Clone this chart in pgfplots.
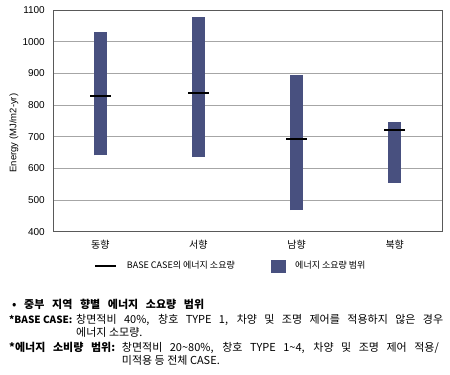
\documentclass[border=0pt]{standalone}
\usepackage{pgfplots}
\pgfplotsset{compat=1.18}
\usepackage{fontspec}
\setmainfont{Liberation Sans}
\newfontfamily\kr{Noto Sans CJK KR}
\definecolor{barblue}{RGB}{72,80,127}
\begin{document}
\begin{tikzpicture}[x=1pt,y=1pt]
\useasboundingbox (0,0) rectangle (450,375);
\begin{axis}[
 at={(53.3pt,143.3pt)}, anchor=south west, scale only axis,
 width=389.4pt, height=221.7pt,
 xmin=-0.479, xmax=3.489, ymin=400, ymax=1100,
 ytick={400,500,...,1100},
 xtick={0,1,2,3}, xticklabels={동향,서향,남향,북향},
 xticklabel style={font=\kr\fontsize{10}{10}\selectfont, yshift=-5pt},
 yticklabel style={font=\fontsize{10}{10}\selectfont, xshift=-5pt},
 /pgf/number format/assume math mode=true,
 /pgf/number format/1000 sep={},
 ymajorgrids, grid style={black!35, line width=0.8pt},
 axis line style={black!65, line width=0.9pt},
 tick style={draw=none},
 ylabel={Energy (MJ/m2-yr)},
 ylabel style={font=\fontsize{9.5}{10}\selectfont, at={(axis description cs:-0.101,0.445)}, anchor=center},
 legend style={draw=none, fill=none, inner sep=0pt, at={(0.1045,-0.1547)}, anchor=west,
   font=\kr\fontsize{9}{10}\selectfont, legend columns=2,
   nodes={inner sep=0pt},
   /tikz/every odd column/.append style={column sep=10pt},
   /tikz/every even column/.append style={column sep=36pt}},
]
\addlegendimage{legend image code/.code={\draw[black, line width=1.7pt] (0pt,0pt) -- (21pt,0pt);}}
\addlegendentry{BASE CASE의 에너지 소요량}
\addlegendimage{legend image code/.code={\fill[barblue] (0pt,-6pt) rectangle (14pt,6pt);}}
\addlegendentry{에너지 소요량 범위}
% ranges (min, max)
\addplot[barblue, line width=13pt, line cap=butt, forget plot] coordinates {(0,641) (0,1030)};
\addplot[barblue, line width=13pt, line cap=butt, forget plot] coordinates {(1,637) (1,1077)};
\addplot[barblue, line width=13pt, line cap=butt, forget plot] coordinates {(2,468) (2,896)};
\addplot[barblue, line width=13pt, line cap=butt, forget plot] coordinates {(3,554) (3,745)};
% base case
\addplot[only marks, mark=-, mark size=10.35pt, mark options={black, line width=1.7pt}, forget plot]
  coordinates {(0,829.5) (1,838) (2,693.7) (3,722)};
\end{axis}
\node[anchor=base west, inner sep=0pt] at (12,66) {\kr\bfseries\fontsize{11}{12}\selectfont\makebox[192pt][s]{• 중부 지역 향별 에너지 소요량 범위}};
\node[anchor=base west, inner sep=0pt] at (9,51.7) {\kr\bfseries\fontsize{10}{11}\selectfont *BASE CASE:};
\node[anchor=base west, inner sep=0pt] at (76,51.7) {\kr\fontsize{11}{12}\selectfont\makebox[367pt][s]{창면적비 40\%, 창호 TYPE 1, 차양 및 조명 제어를 적용하지 않은 경우}};
\node[anchor=base west, inner sep=0pt] at (76,38.3) {\kr\fontsize{11}{12}\selectfont 에너지 소모량.};
\node[anchor=base west, inner sep=0pt] at (9,23.3) {\kr\bfseries\fontsize{11}{12}\selectfont\makebox[106pt][s]{*에너지 소비량 범위:}};
\node[anchor=base west, inner sep=0pt] at (121.7,23.3) {\kr\fontsize{11}{12}\selectfont\makebox[317pt][s]{창면적비 20\textasciitilde 80\%, 창호 TYPE 1\textasciitilde 4, 차양 및 조명 제어 적용/}};
\node[anchor=base west, inner sep=0pt] at (121.7,10) {\kr\fontsize{11}{12}\selectfont 미적용 등 전체 CASE.};
\end{tikzpicture}
\end{document}
